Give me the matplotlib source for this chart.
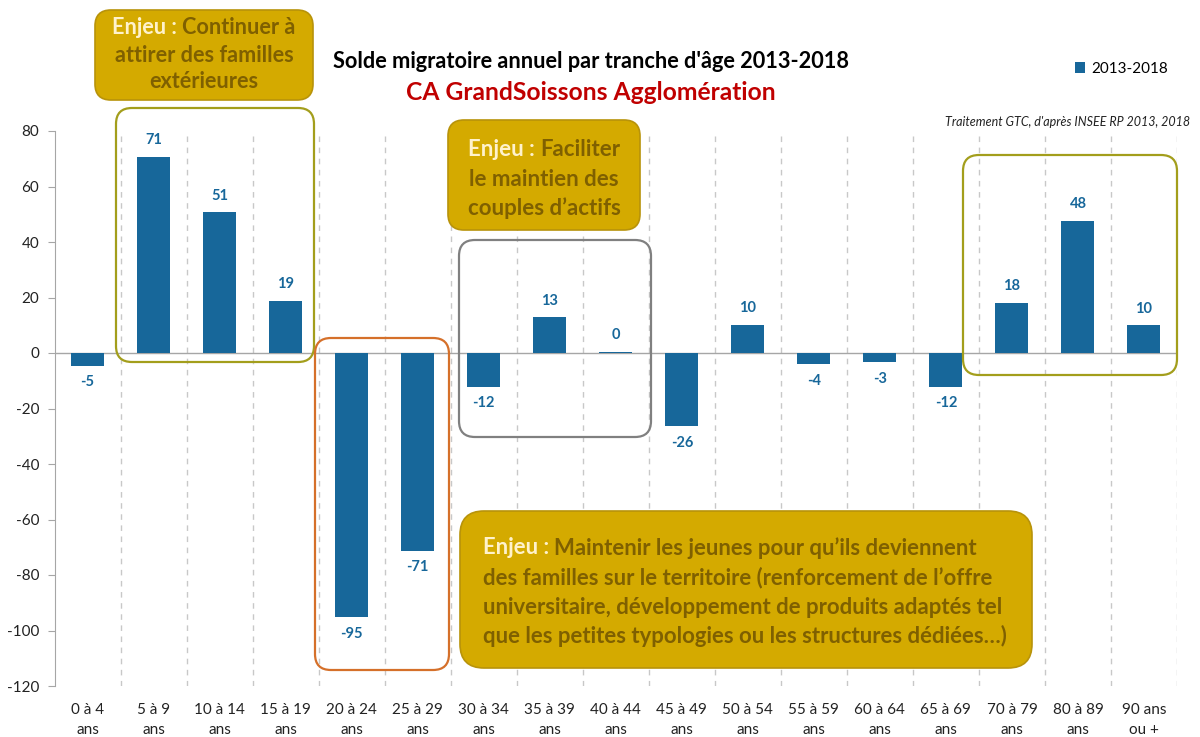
import matplotlib
matplotlib.use('Agg')
import matplotlib.pyplot as plt
from matplotlib.patches import FancyBboxPatch, Rectangle
from matplotlib.transforms import IdentityTransform

plt.rcParams['font.family'] = ['Lato', 'DejaVu Sans']

categories = ["0 à 4\nans", "5 à 9\nans", "10 à 14\nans", "15 à 19\nans", "20 à 24\nans",
              "25 à 29\nans", "30 à 34\nans", "35 à 39\nans", "40 à 44\nans", "45 à 49\nans",
              "50 à 54\nans", "55 à 59\nans", "60 à 64\nans", "65 à 69\nans", "70 à 79\nans",
              "80 à 89\nans", "90 ans\nou +"]
values = [-4.6, 70.8, 50.7, 18.9, -95.3, -71.2, -12.1, 12.8, 0.4, -26.4, 10.2, -4.0, -3.2,
          -12.1, 18.1, 47.6, 10.0]
series_name = "2013-2018"
yticks = [-120, -100, -80, -60, -40, -20, 0, 20, 40, 60, 80]

W, H = 1200, 737
BLUE = '#17679A'
GOLD = '#D4AA00'
GOLD_EDGE = '#B8930A'
CREAM = '#FFF2CC'
DARK = '#7F6000'
OLIVE = '#A39E1C'
ORANGE = '#D5702A'
GREY = '#808080'

fig = plt.figure(figsize=(12, 7.37), dpi=100)
fig.patch.set_facecolor('white')
ax = fig.add_axes([54.6 / W, 1 - 686 / H, (1177 - 54.6) / W, (686 - 131) / H])

x = list(range(len(categories)))
ax.bar(x, values, width=0.5, color=BLUE, zorder=3, label=series_name)
for xi, v in zip(x, values):
    if v >= 0:
        ax.annotate(f"{v:.0f}", (xi, v), xytext=(0, 7), textcoords='offset points',
                    ha='center', va='bottom', color=BLUE, fontweight='bold', fontsize=10.5)
    else:
        ax.annotate(f"{v:.0f}", (xi, v), xytext=(0, -7), textcoords='offset points',
                    ha='center', va='top', color=BLUE, fontweight='bold', fontsize=10.5)

ax.set_xlim(-0.5, len(categories) - 0.5)
ax.set_ylim(-120, 80)
ax.set_yticks(yticks)
ax.set_yticklabels([str(t) for t in yticks], fontsize=11, color='#222222')
ax.set_xticks(x)
ax.set_xticklabels(categories, fontsize=11, color='#222222', linespacing=1.6)
ax.tick_params(axis='x', length=0, pad=12)
ax.tick_params(axis='y', length=5, color='#A6A6A6', direction='out', pad=6)
for s in ['top', 'right', 'bottom']:
    ax.spines[s].set_visible(False)
ax.spines['left'].set_color('#A6A6A6')
ax.axhline(0, color='#A6A6A6', lw=1, zorder=2)
for b in range(1, len(categories) + 1):
    ax.axvline(b - 0.5, color='#C8C8C8', lw=1, ls=(0, (4, 4)), zorder=1)

# legend
ax.legend(loc='center left', bbox_to_anchor=(1061 / W, 1 - 69 / H), bbox_transform=fig.transFigure,
          frameon=False, fontsize=11, handlelength=0.7, handleheight=0.7, handletextpad=0.4)

# titles
fig.text(591 / W, 1 - 62 / H, "Solde migratoire annuel par tranche d'âge 2013-2018",
         ha='center', va='center', fontsize=15.7, fontweight='bold', color='black')
fig.text(591 / W, 1 - 93 / H, "CA GrandSoissons Agglomération",
         ha='center', va='center', fontsize=17.7, fontweight='bold', color='#C00000')
fig.text(1190 / W, 1 - 122 / H, "Traitement GTC, d'après INSEE RP 2013, 2018",
         ha='right', va='center', fontsize=9, style='italic', color='#222222')

ID = IdentityTransform()


def rbox(x0, y0, x1, y1, fc, ec, lw, r=16):
    p = FancyBboxPatch((x0, H - y1), x1 - x0, y1 - y0,
                       boxstyle=f"round,pad=0,rounding_size={r}",
                       fc=fc, ec=ec, lw=lw, transform=ID, zorder=5)
    fig.add_artist(p)


# outline boxes
rbox(116, 108, 314, 362, 'none', OLIVE, 1.6)
rbox(315, 338, 449, 670, 'none', ORANGE, 1.6)
rbox(459, 240, 651, 437, 'none', GREY, 1.6)
rbox(963, 155, 1177, 375, 'none', OLIVE, 1.6)

# gold boxes
rbox(95, 10, 313, 100, GOLD, GOLD_EDGE, 1.2)
rbox(448, 120, 640, 230, GOLD, GOLD_EDGE, 1.2)
rbox(460, 511, 1032, 668, GOLD, GOLD_EDGE, 1.2, r=24)

renderer = fig.canvas.get_renderer()


def width_of(s, fs):
    t = fig.text(0, 0, s, fontsize=fs, fontweight='bold', transform=ID)
    w = t.get_window_extent(renderer).width
    t.remove()
    return w


def mixed_line(xpos, ypos, parts, fs, ha='center'):
    space = width_of("a a", fs) - width_of("aa", fs)
    widths = [width_of(s, fs) for s, _ in parts]
    total = sum(widths) + space * (len(parts) - 1)
    cx = xpos - total / 2 if ha == 'center' else xpos
    for (s, c), w in zip(parts, widths):
        fig.text(cx, H - ypos, s, fontsize=fs, fontweight='bold', color=c,
                 ha='left', va='center', transform=ID, zorder=6)
        cx += w + space


F1, F2, F3 = 15.6, 16.0, 15.9
mixed_line(204, 28, [("Enjeu :", CREAM), ("Continuer à", DARK)], F1)
mixed_line(204, 55, [("attirer des familles", DARK)], F1)
mixed_line(204, 82, [("extérieures", DARK)], F1)

mixed_line(544, 150, [("Enjeu :", CREAM), ("Faciliter", DARK)], F2)
mixed_line(544, 180, [("le maintien des", DARK)], F2)
mixed_line(544, 208, [("couples d’actifs", DARK)], F2)

mixed_line(483, 548, [("Enjeu :", CREAM), ("Maintenir les jeunes pour qu’ils deviennent", DARK)], F3, ha='left')
mixed_line(483, 578, [("des familles sur le territoire (renforcement de l’offre", DARK)], F3, ha='left')
mixed_line(483, 607, [("universitaire, développement de produits adaptés tel", DARK)], F3, ha='left')
mixed_line(483, 636, [("que les petites typologies ou les structures dédiées…)", DARK)], F3, ha='left')

fig.savefig('out.png', dpi=100)
